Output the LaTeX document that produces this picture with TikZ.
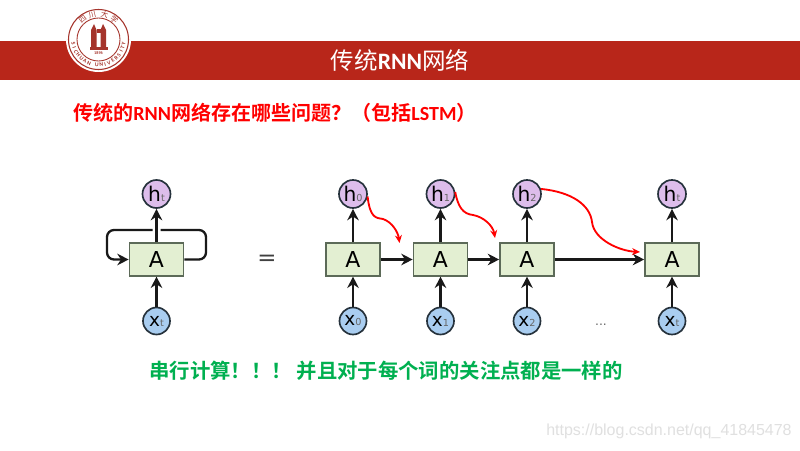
\documentclass[tikz,border=0pt]{standalone}
\usepackage{fontspec}
\setmainfont{Carlito}
\setsansfont{DejaVu Sans}
\newfontfamily\cjk{Noto Sans CJK SC}
\newfontfamily\cjkbold{Noto Sans CJK SC}[BoldFont={Noto Sans CJK SC Bold}]
\newfontfamily\wmfont{Liberation Sans}
\usepackage{xcolor}
\usetikzlibrary{
	arrows.meta,
	calc,
	positioning
}
\definecolor{bandred}{HTML}{B8261A}
\definecolor{logored}{HTML}{A5342C}
\definecolor{boxgreen}{HTML}{E3EFD2}
\definecolor{boxedge}{HTML}{5C6A58}
\definecolor{hpurple}{HTML}{DDBDEB}
\definecolor{xblue}{HTML}{A9CDF0}
\definecolor{circedge}{HTML}{26323C}
\definecolor{talkgreen}{HTML}{00B050}
\definecolor{markgrey}{HTML}{E0E0E0}
\tikzset{
	cell/.style={draw=boxedge,fill=boxgreen,line width=0.9pt,minimum width=1.08cm,minimum height=0.65cm,inner sep=0pt,font=\sffamily\fontsize{12.5}{12}\selectfont},
	hnode/.style={circle,draw=circedge,fill=hpurple,line width=0.95pt,minimum size=0.56cm,inner sep=0pt,font=\sffamily\fontsize{11.5}{12}\selectfont},
	xnode/.style={circle,draw=circedge,fill=xblue,line width=0.95pt,minimum size=0.54cm,inner sep=0pt,font=\sffamily\fontsize{10.5}{12}\selectfont},
	flow/.style={-{Stealth[length=6.5pt,width=6.5pt]},line width=1.3pt,color=black!90},
	redcurve/.style={-{Stealth[length=4.5pt,width=4pt]},line width=1.05pt,red},
	logotext/.style={logored,inner sep=0pt,font=\fontsize{3.2}{4}\selectfont\bfseries},
}
\newcommand{\sub}[1]{{\fontsize{5.5}{6}\selectfont\color{black!60}#1}}
\begin{document}
\begin{tikzpicture}[x=0.02cm,y=0.02cm]
	\useasboundingbox (0,0) rectangle (800,450);
	\fill[white] (0,0) rectangle (800,450);
	% band and logo
	\fill[bandred] (0,370) rectangle (800,409);
	\coordinate (logo) at (98.5,410.5);
	\fill[white] (logo) circle (32.5);
	\draw[logored,line width=0.6pt] (logo) circle (30);
	\draw[logored,line width=0.5pt] (logo) circle (21.5);
	\fill[logored] (89.5,400) rectangle (107.5,402.5);
	\fill[logored] (91,402.5) -- (91,420) -- (94,426) -- (96.5,420) -- (96.5,402.5) -- cycle;
	\fill[logored] (100.5,402.5) -- (100.5,420) -- (103,426) -- (106,420) -- (106,402.5) -- cycle;
	\fill[logored] (96.5,417) rectangle (100.5,421);
	\node[logored,inner sep=0pt,font=\fontsize{2.4}{3}\selectfont\bfseries] (logoyear) at (98.5,396.5) {1896};
	\foreach \ch/\ang in {S/190,I/199,C/208,H/218,U/228,A/238,N/248,U/266,N/276,I/285,V/294,E/304,R/314,S/323,I/332,T/341,Y/350}
	\node[logotext,rotate=\ang+90] at ($(logo)+(\ang:25.5)$) {\ch};
	\foreach \ch/\ang in {四/128,川/104,大/76,学/52}
	\node[logored,inner sep=0pt,font=\cjk\fontsize{4.2}{5}\selectfont,rotate=\ang-90] at ($(logo)+(\ang:25.5)$) {\ch};

	% headings
	\node[white,font=\cjkbold\fontsize{13.4}{16}\selectfont] (title) at (400,390) {传统{\rmfamily\bfseries RNN}网络};
	\node[red,anchor=west,inner sep=0pt,font=\cjkbold\bfseries\fontsize{11.4}{14}\selectfont] (question) at (73,337) {传统的{\rmfamily\bfseries RNN}网络存在哪些问题？（包括{\rmfamily\bfseries LSTM}）};
	\node[talkgreen,anchor=west,inner sep=0pt,font=\cjkbold\bfseries\fontsize{11.6}{14}\selectfont] (remark) at (149,79) {串行计算！！！ 并且对于每个词的关注点都是一样的};

	% cells in one loop
	\foreach \n/\cx/\lbl in {L/156.5/t,0/353/0,1/440.5/1,2/527/2,t/672/t}{
		\node[cell] (A\n) at (\cx,190.5) {A};
		\node[hnode] (h\n) at (\cx,256) {h\sub{\lbl}};
		\node[xnode] (x\n) at (\cx,129) {x\sub{\lbl}};
		\draw[flow] (x\n) -- (A\n);
		\draw[flow] (A\n) -- (h\n);
	}
	\draw[flow] (A0) -- (A1);
	\draw[flow] (A1) -- (A2);
	\draw[flow] (A2) -- (At);

	% loop round the first cell
	\coordinate (loopR) at (206,220);
	\coordinate (loopRin) at (160.5,220);
	\coordinate (loopLin) at (152.5,220);
	\coordinate (loopL) at (107,220);
	\draw[line width=1.3pt,color=black!90,rounded corners=4pt] (AL.east) -- (loopR |- AL.east) -- (loopR) -- (loopRin);
	\draw[flow,rounded corners=4pt] (loopLin) -- (loopL) -- (loopL |- AL.west) -- (AL.west);

	\node[font=\sffamily\fontsize{13}{13}\selectfont,black!75] (equal) at (267,189.5) {=};
	\node[font=\sffamily\fontsize{7}{7}\selectfont,black!60] (dots) at (601,125) {...};

	% red curves
	\coordinate (r0) at (399.5,207);
	\coordinate (r1) at (495,212);
	\coordinate (r2) at (640,198);
	\draw[redcurve] (h0.-10) .. controls (370,232) and (376,232) .. (383,231) .. controls (392,228) and (398,218) .. (r0);
	\draw[redcurve] (h1.8) .. controls (458,243) and (463,236) .. (473,235) .. controls (484,233) and (493,224) .. (r1);
	\draw[redcurve] (h2.20) .. controls (572,258) and (590,245) .. (592,228) .. controls (594,210) and (620,199) .. (r2);

	% watermark
	\node[markgrey,anchor=east,inner sep=0pt,font=\wmfont\fontsize{9.1}{10}\selectfont] (blog) at (792,19) {https://blog.csdn.net/qq\_41845478};
\end{tikzpicture}
\end{document}
